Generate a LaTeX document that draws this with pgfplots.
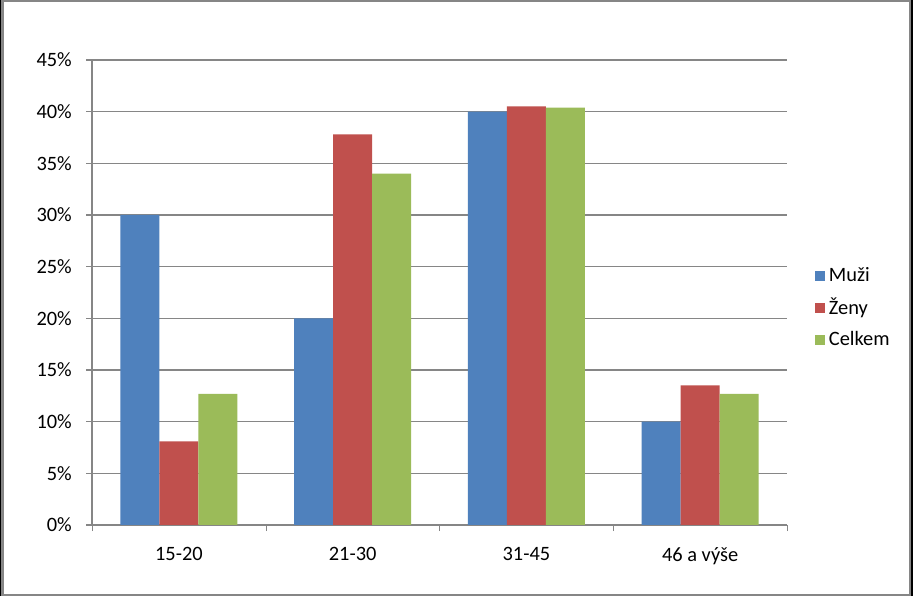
\documentclass[border=0pt]{standalone}
\usepackage{fontspec}
\setmainfont{Carlito}
\usepackage{pgfplots}
\pgfplotsset{compat=1.18}

\definecolor{muzi}{HTML}{4F81BD}
\definecolor{zeny}{HTML}{C0504D}
\definecolor{celkem}{HTML}{9BBB59}
\definecolor{gridc}{HTML}{868686}

\begin{document}
\fontsize{10.2bp}{12bp}\selectfont
\begin{tikzpicture}
\fill[black] (0,0) rectangle (456.5bp,298bp);
\filldraw[fill=white, draw=gridc, line width=1.2bp] (1.2bp,0.6bp) rectangle (455bp,297.4bp);
\begin{axis}[
    at={(46bp,35.5bp)}, anchor=south west,
    scale only axis,
    width=347.5bp, height=232.5bp,
    ybar=0pt,
    bar width=19.5bp,
    xmin=-0.5, xmax=3.5,
    ymin=0, ymax=45,
    xtick={0,1,2,3},
    xticklabels={15-20,21-30,31-45,46 a výše},
    major x tick style={draw=none},
    minor xtick={-0.5,0.5,1.5,2.5,3.5},
    minor x tick style={draw=gridc},
    ytick={0,5,...,45},
    yticklabels={0\%,5\%,10\%,15\%,20\%,25\%,30\%,35\%,40\%,45\%},
    tick align=outside,
    major tick length=3bp,
    minor tick length=3bp,
    axis x line*=bottom,
    axis y line*=left,
    axis line style={draw=gridc, line width=0.6bp},
    y axis line style={-},
    x axis line style={-},
    ymajorgrids,
    grid style={draw=gridc, line width=0.6bp},
    y tick style={draw=gridc, line width=0.6bp},
    xticklabel style={yshift=-4.5bp},
    yticklabel style={xshift=-3.5bp},
    tick label style={font=\fontsize{10.2bp}{12bp}\selectfont},
    legend style={at={(rel axis cs:1.031,0.467)}, anchor=west, draw=none, fill=none,
        font=\fontsize{10.2bp}{12bp}\selectfont, row sep=2.8bp},
    legend cell align=left,
    legend image code/.code={\fill[#1] (0bp,-2.5bp) rectangle (5bp,2.5bp);},
]
\addplot[fill=muzi, draw=none] coordinates {(0,30) (1,20) (2,40) (3,10)};
\addplot[fill=zeny, draw=none] coordinates {(0,8.1) (1,37.8) (2,40.5) (3,13.5)};
\addplot[fill=celkem, draw=none] coordinates {(0,12.7) (1,34.0) (2,40.4) (3,12.7)};
\legend{Muži,Ženy,Celkem}
\end{axis}
\end{tikzpicture}
\end{document}
